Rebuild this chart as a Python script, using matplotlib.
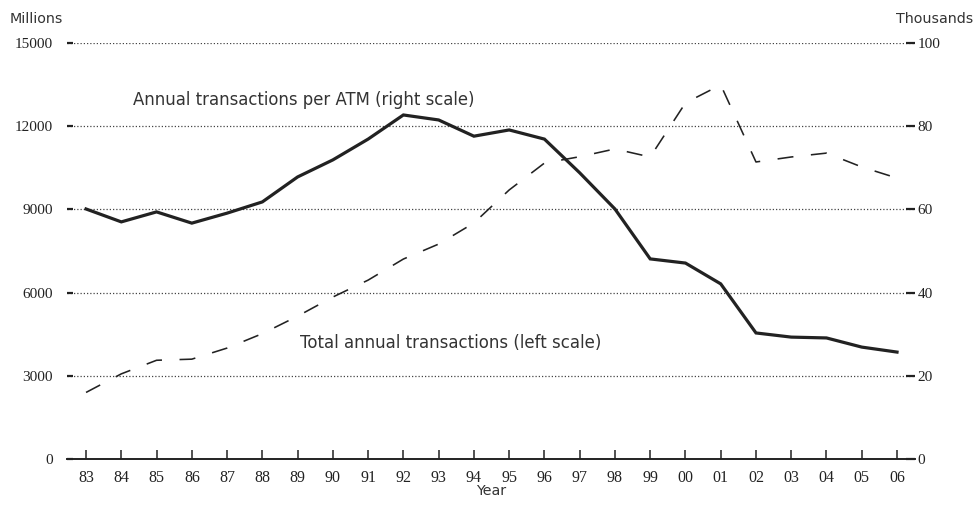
import numpy as np
import matplotlib.pyplot as plt

# years shown as two-digit labels
years = ["83", "84", "85", "86", "87", "88", "89", "90", "91", "92", "93", "94",
         "95", "96", "97", "98", "99", "00", "01", "02", "03", "04", "05", "06"]

# total annual transactions, millions (left scale)
total_trans = [2400, 3070, 3560, 3600, 4000, 4520, 5150, 5840, 6450, 7210, 7750, 8510,
               9700, 10670, 10900, 11180, 10890, 12840, 13490, 10710, 10890, 11030, 10530, 10130]

# annual transactions per ATM, thousands (right scale)
per_atm = [60.1, 57.0, 59.4, 56.7, 59.1, 61.8, 67.8, 71.9, 76.9, 82.7, 81.5, 77.6,
           79.1, 76.9, 68.8, 60.1, 48.1, 47.1, 42.1, 30.3, 29.3, 29.1, 26.9, 25.7]

left_ticks = [0, 3000, 6000, 9000, 12000, 15000]
right_ticks = [0, 20, 40, 60, 80, 100]

serif = "Liberation Serif"
sans = "DejaVu Sans"
ink = "#222222"
txt = "#333333"

x = np.arange(len(years))

fig = plt.figure(figsize=(9.74, 5.05), dpi=100)
ax = fig.add_axes([67 / 974, 46 / 505, 848 / 974, 416 / 505])
ax2 = ax.twinx()

# dotted gridlines
for v in left_ticks[1:]:
    ax.axhline(v, color="#444444", lw=0.9, ls=(0, (1, 1.6)), zorder=1)

ax.plot(x, total_trans, color=ink, lw=1.15, dashes=(10, 11), zorder=3)
ax2.plot(x, per_atm, color=ink, lw=2.3, solid_joinstyle="miter", zorder=4)

ax.set_xlim(-0.54, 23.51)
ax.set_ylim(0, 15000)
ax2.set_ylim(0, 100)

ax.set_xticks(x)
ax.set_xticklabels(years, fontfamily=serif, fontsize=11.5, color=ink)
ax.set_yticks(left_ticks)
ax.set_yticklabels([str(v) for v in left_ticks], fontfamily=serif, fontsize=11, color=ink)
ax2.set_yticks(right_ticks)
ax2.set_yticklabels([str(v) for v in right_ticks], fontfamily=serif, fontsize=11, color=ink)

ax.tick_params(axis="x", direction="in", length=6.5, width=1.1, color=ink, pad=8)
ax.tick_params(axis="y", direction="in", length=4.5, width=1.6, color=ink, pad=10)
ax2.tick_params(axis="y", direction="in", length=6.5, width=1.6, color=ink, pad=2)

for a in (ax, ax2):
    for s in ("top", "left", "right"):
        a.spines[s].set_visible(False)
ax2.spines["bottom"].set_visible(False)
ax.spines["bottom"].set_color(ink)
ax.spines["bottom"].set_linewidth(1.4)

fig.text(10 / 974, 1 - 19 / 505, "Millions", family=sans, fontsize=10.3,
         color=txt, ha="left", va="center")
fig.text(973 / 974, 1 - 19 / 505, "Thousands", family=sans, fontsize=10.3,
         color=txt, ha="right", va="center")
fig.text(491 / 974, 1 - 491 / 505, "Year", family=sans, fontsize=10.3,
         color=txt, ha="center", va="center")
fig.text(133 / 974, 1 - 100 / 505, "Annual transactions per ATM (right scale)",
         family=sans, fontsize=11.9, color=txt, ha="left", va="center")
fig.text(300 / 974, 1 - 343 / 505, "Total annual transactions (left scale)",
         family=sans, fontsize=12, color=txt, ha="left", va="center")

fig.savefig("out.png", dpi=100)
